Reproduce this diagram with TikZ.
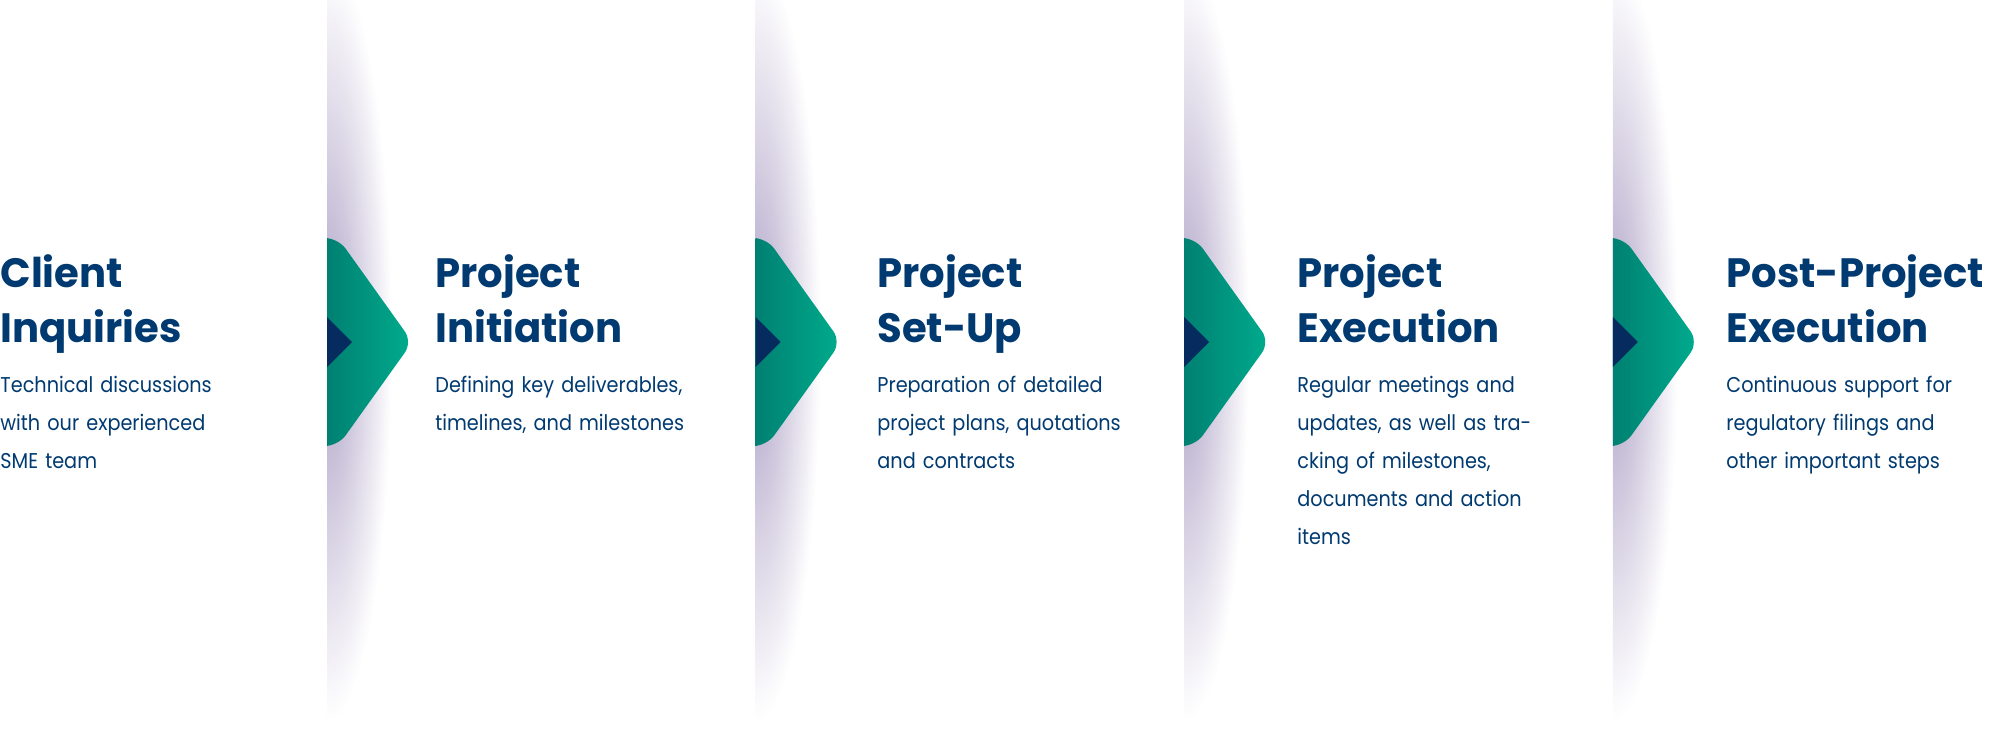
\documentclass[tikz,border=0pt]{standalone}
\usepackage{fontspec}
\setmainfont{Poppins}[FakeStretch=0.9]
\newfontfamily\headfont{Poppins}[FakeStretch=0.98]
\definecolor{navy}{HTML}{003A70}
\definecolor{darknavy}{HTML}{062C5F}
\definecolor{tealdark}{HTML}{00796D}
\definecolor{teallight}{HTML}{00AC8D}
\definecolor{shadowc}{HTML}{AEA2C6}
\begin{document}
\begin{tikzpicture}[x=0.5pt,y=-0.5pt,
title/.style={
% The heading:
anchor=base west,
inner sep=0pt,
text width=170pt,
align=left,
text=navy,
font=\headfont\fontsize{20.5}{27.5}\selectfont\bfseries
},
desc/.style={
anchor=base west,
inner sep=0pt,
text width=170pt,
align=left,
text=navy,
font=\fontsize{10.7}{19}\selectfont
},
steparrow/.pic={
\begin{scope}
\clip (0,0) rectangle (140,729);
% shadow at the panel edge
\shade[inner color=shadowc, outer color=white] (0,342) ellipse [x radius=65, y radius=380];
\shade[left color=tealdark, right color=teallight, rounded corners=6.5pt] (-14,238) -- (11,238) -- (85.4,342) -- (11,446) -- (-14,446) -- cycle;
\end{scope}
\fill[darknavy] (0,317) -- (25,342) -- (0,367) -- cycle;
}
]
\useasboundingbox (0,0) rectangle (2000,729);
% Panel edges:
\pic at (327,0) {steparrow};
\pic at (755.6,0) {steparrow};
\pic at (1184.2,0) {steparrow};
\pic at (1612.8,0) {steparrow};
% Steps:
\node (title1) [title] at (0,287) {Client\\Inquiries};
\node (text1) [desc] at (0,392) {Technical discussions\\with our experienced\\SME team};
\node (title2) [title] at (435,287) {Project\\Initiation};
\node (text2) [desc] at (435,392) {Defining key deliverables,\\timelines, and milestones};
\node (title3) [title] at (877,287) {Project\\Set-Up};
\node (text3) [desc] at (877,392) {Preparation of detailed\\project plans, quotations\\and contracts};
\node (title4) [title] at (1297,287) {Project\\Execution};
\node (text4) [desc] at (1297,392) {Regular meetings and\\updates, as well as tra-\\cking of milestones,\\documents and action\\items};
\node (title5) [title] at (1726,287) {Post-Project\\Execution};
\node (text5) [desc] at (1726,392) {Continuous support for\\regulatory filings and\\other important steps};
\end{tikzpicture}
\end{document}
